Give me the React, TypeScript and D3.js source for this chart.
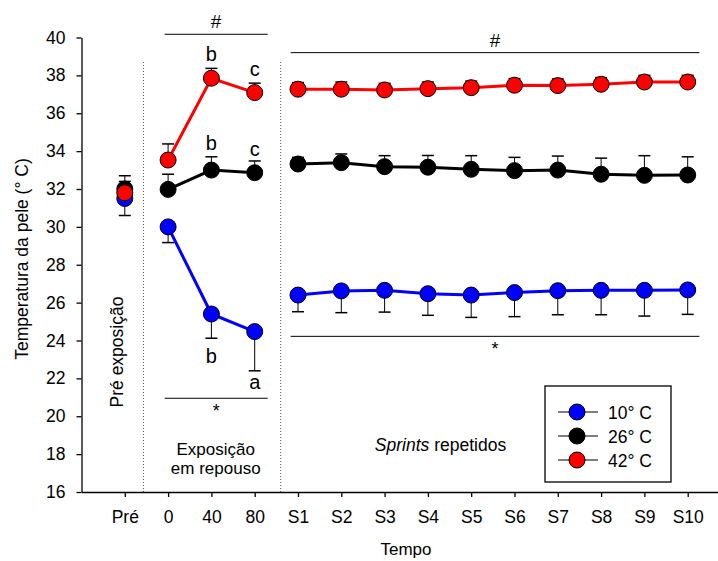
import React, { useEffect, useRef } from 'react';
import * as d3 from 'd3';

const categories = ['Pré', '0', '40', '80', 'S1', 'S2', 'S3', 'S4', 'S5', 'S6', 'S7', 'S8', 'S9', 'S10'];
const yTicks = [16, 18, 20, 22, 24, 26, 28, 30, 32, 34, 36, 38, 40];

// means and SEM for each temperature
const mean10 = [31.5, 30.0, 25.4, 24.47, 26.4, 26.62, 26.65, 26.47, 26.4, 26.53, 26.63, 26.65, 26.65, 26.67];
const err10 = [0.9, 0.83, 1.28, 2.07, 0.88, 1.15, 1.15, 1.14, 1.18, 1.27, 1.27, 1.29, 1.36, 1.29];
const mean26 = [32.0, 31.98, 33.0, 32.86, 33.32, 33.39, 33.18, 33.15, 33.04, 32.97, 33.0, 32.78, 32.72, 32.74];
const err26 = [0.7, 0.8, 0.7, 0.62, 0.35, 0.46, 0.58, 0.62, 0.72, 0.7, 0.74, 0.85, 1.04, 0.96];
const mean42 = [31.8, 33.53, 37.85, 37.09, 37.27, 37.27, 37.23, 37.3, 37.35, 37.48, 37.46, 37.53, 37.65, 37.65];
const err42 = [0.6, 0.85, 0.52, 0.5, 0.35, 0.38, 0.35, 0.35, 0.35, 0.35, 0.35, 0.35, 0.35, 0.35];

const segments = [[0], [1, 2, 3], [4, 5, 6, 7, 8, 9, 10, 11, 12, 13]];

const series = [
  { name: '10° C', color: '#0000ff', mean: mean10, err: err10, dir: -1 },
  { name: '26° C', color: '#000000', mean: mean26, err: err26, dir: 1 },
  { name: '42° C', color: '#ff0000', mean: mean42, err: err42, dir: 1 },
];

// letters over/under the rest points: [series, index, text, pixel offset from error end]
const letters: [number, number, string, number][] = [
  [2, 2, 'b', -7], [2, 3, 'c', -7],
  [1, 2, 'b', -7], [1, 3, 'c', -5],
  [0, 2, 'b', 25], [0, 3, 'a', 18],
];

const App = () => {
  const svgRef = useRef<SVGSVGElement>(null);

  useEffect(() => {
    if (!svgRef.current) return;
    const svg = d3.select(svgRef.current);
    svg.selectAll('*').remove();

    const font = '"Liberation Sans", Arial, sans-serif';
    const fs = 17.5;
    const x = d3.scaleLinear().domain([-1, 14]).range([81.5, 731]);
    const y = d3.scaleLinear().domain([16, 40]).range([492, 37.5]);

    // separators
    [0.43, 3.6].forEach(v => {
      svg.append('line')
        .attr('x1', x(v)).attr('x2', x(v))
        .attr('y1', 62).attr('y2', y(16))
        .attr('stroke', '#555').attr('stroke-width', 1)
        .attr('stroke-dasharray', '1,2');
    });

    // axes
    const yAxis = svg.append('g')
      .attr('transform', `translate(${x(-1)},0)`)
      .call(d3.axisLeft(y).tickValues(yTicks).tickSize(5).tickPadding(11).tickSizeOuter(0));
    const xAxis = svg.append('g')
      .attr('transform', `translate(0,${y(16)})`)
      .call(d3.axisBottom(x).tickValues(d3.range(categories.length))
        .tickFormat(i => categories[i as number]).tickSize(5).tickPadding(14).tickSizeOuter(0));
    [yAxis, xAxis].forEach(g => {
      g.selectAll('path, line').attr('stroke', '#000').attr('stroke-width', 1.3);
      g.selectAll('text').attr('fill', '#000').style('font-size', `${fs}px`).style('font-family', font);
    });

    series.forEach(s => {
      const ln = d3.line<number>().x(i => x(i)).y(i => y(s.mean[i]));
      segments.forEach(seg => {
        if (seg.length < 2) return;
        svg.append('path').attr('d', ln(seg))
          .attr('fill', 'none').attr('stroke', s.color).attr('stroke-width', 3);
      });
    });

    series.forEach(s => {
      const g = svg.append('g');
      s.mean.forEach((m, i) => {
        const end = m + s.dir * s.err[i];
        g.append('line').attr('x1', x(i)).attr('x2', x(i))
          .attr('y1', y(m)).attr('y2', y(end)).attr('stroke', '#000').attr('stroke-width', 1);
        g.append('line').attr('x1', x(i) - 6).attr('x2', x(i) + 6)
          .attr('y1', y(end)).attr('y2', y(end)).attr('stroke', '#000').attr('stroke-width', 1.5);
      });
      g.selectAll('circle').data(s.mean).enter().append('circle')
        .attr('cx', (d, i) => x(i)).attr('cy', d => y(d)).attr('r', 8)
        .attr('fill', s.color).attr('stroke', '#000').attr('stroke-width', 1);
    });

    const text = (tx: number, ty: number, t: string, size = fs) =>
      svg.append('text').attr('x', tx).attr('y', ty).attr('text-anchor', 'middle')
        .style('font-family', font).style('font-size', `${size}px`).attr('fill', '#000').text(t);

    letters.forEach(([si, i, t, off]) => {
      const s = series[si];
      text(x(i), y(s.mean[i] + s.dir * s.err[i]) + off, t, 20);
    });

    // significance brackets
    const bracket = (x0: number, x1: number, v: number, sym: string, above: boolean) => {
      svg.append('line').attr('x1', x(x0)).attr('x2', x(x1)).attr('y1', y(v)).attr('y2', y(v))
        .attr('stroke', '#000').attr('stroke-width', 1);
      text((x(x0) + x(x1)) / 2, above ? y(v) - 6 : y(v) + 19, sym, sym === '*' ? 18 : 19);
    };
    bracket(0.92, 3.3, 40.17, '#', true);
    bracket(3.83, 13.27, 39.2, '#', true);
    bracket(0.92, 3.3, 20.95, '*', false);
    bracket(3.83, 13.27, 24.22, '*', false);

    // section labels
    text(x(2.1), 455, 'Exposição', 17);
    text(x(2.1), 474, 'em repouso', 17);
    const sp = svg.append('text').attr('x', 440.5).attr('y', 451).attr('text-anchor', 'middle')
      .style('font-family', font).style('font-size', `${fs}px`);
    sp.append('tspan').style('font-style', 'italic').text('Sprints');
    sp.append('tspan').text(' repetidos');
    svg.append('text').attr('transform', `translate(123,352) rotate(-90)`)
      .attr('text-anchor', 'middle').style('font-family', font).style('font-size', `${fs}px`)
      .text('Pré exposição');

    // axis titles
    svg.append('text').attr('transform', `translate(28,259) rotate(-90)`)
      .attr('text-anchor', 'middle').style('font-family', font).style('font-size', `${fs}px`)
      .text('Temperatura da pele (° C)');
    text(406, 555, 'Tempo', 17);

    // legend
    const lg = svg.append('g').attr('transform', 'translate(545,386)');
    lg.append('rect').attr('width', 126).attr('height', 96)
      .attr('fill', '#fff').attr('stroke', '#000').attr('stroke-width', 1.3);
    series.forEach((s, k) => {
      const ly = 26 + k * 24;
      lg.append('line').attr('x1', 13).attr('x2', 53).attr('y1', ly).attr('y2', ly)
        .attr('stroke', '#000').attr('stroke-width', 1);
      lg.append('circle').attr('cx', 32).attr('cy', ly).attr('r', 8)
        .attr('fill', s.color).attr('stroke', '#000');
      lg.append('text').attr('x', 63).attr('y', ly + 6.5)
        .style('font-family', font).style('font-size', `${fs}px`).text(s.name);
    });
  }, []);

  return (
    <svg ref={svgRef} width={718} height={561}
      style={{ position: 'absolute', left: 0, top: 0, background: '#fff' }} />
  );
};

export default App;
